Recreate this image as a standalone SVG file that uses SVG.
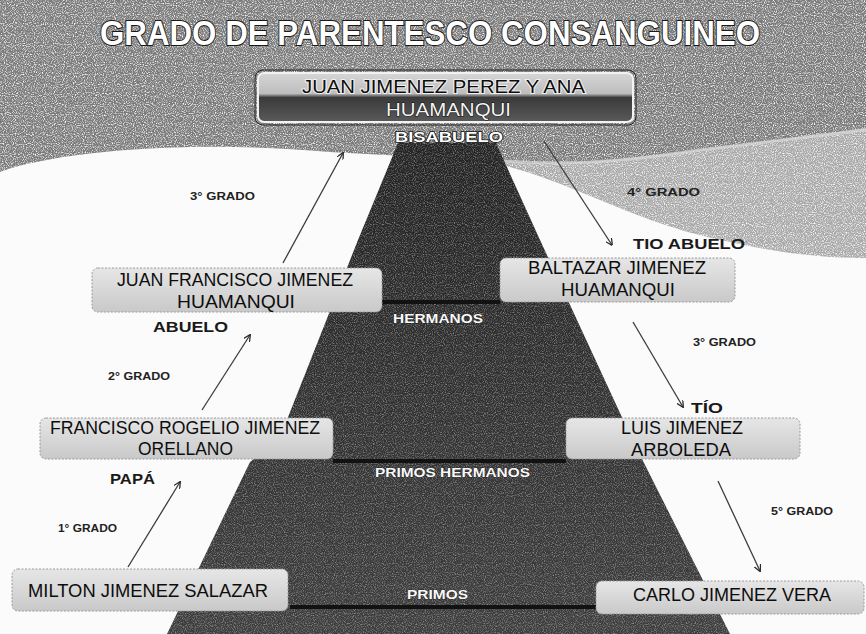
<svg xmlns="http://www.w3.org/2000/svg" width="866" height="634" viewBox="0 0 866 634">
<style>
.bx{fill:url(#boxg);stroke:#9a9a9a;stroke-width:1;stroke-dasharray:2 1.5}
.nt{font-family:"Liberation Sans",Arial,sans-serif;font-size:18px;fill:#0d0d0d}
.rl{font-family:"Liberation Sans",Arial,sans-serif;font-size:14px;font-weight:bold;fill:#1a1a1a}
.gr{font-family:"Liberation Sans",Arial,sans-serif;font-size:10px;font-weight:bold;fill:#222}
.pl{font-family:"Liberation Sans",Arial,sans-serif;font-size:13px;font-weight:bold;fill:#fafafa;stroke:#111;stroke-width:0.6;paint-order:stroke}
.cn{fill:none;stroke:#3c3c3c;stroke-width:1.3;marker-end:url(#ah)}
.sep{stroke:#121212;stroke-width:4}
</style>
<defs>
<marker id="ah" viewBox="0 0 10 10" refX="9" refY="5" markerWidth="7" markerHeight="7" orient="auto" markerUnits="userSpaceOnUse">
<path d="M0,0 L10,5 L0,10" fill="none" stroke="#2a2a2a" stroke-width="1.8"/>
</marker>
<linearGradient id="boxg" x1="0" y1="0" x2="0" y2="1">
<stop offset="0" stop-color="#e6e6e6"/><stop offset="1" stop-color="#c9c9c9"/>
</linearGradient>
<linearGradient id="topg" x1="0" y1="0" x2="0" y2="1">
<stop offset="0" stop-color="#d6d6d6"/><stop offset="0.42" stop-color="#bdbdbd"/>
<stop offset="0.5" stop-color="#3a3a3a"/><stop offset="1" stop-color="#5a5a5a"/>
</linearGradient>
<linearGradient id="pyrg" x1="0" y1="0" x2="0" y2="1">
<stop offset="0" stop-color="#232323"/><stop offset="1" stop-color="#3e3e3e"/>
</linearGradient>
<filter id="grain" x="0" y="0" width="100%" height="100%">
<feTurbulence type="fractalNoise" baseFrequency="0.9" numOctaves="1" seed="7" result="n"/>
<feColorMatrix in="n" type="matrix" values="0 0 0 0 1  0 0 0 0 1  0 0 0 0 1  3 0 0 0 -1.35" result="w"/>
<feComposite in="w" in2="SourceGraphic" operator="in"/>
</filter>
</defs>
<rect width="866" height="634" fill="#fbfbfb"/>
<g id="header">
<path d="M480,160 C560,175 620,215 700,235 C780,255 830,258 866,258 L866,128 C830,133 780,140 700,150 C620,160 560,168 480,160Z" fill="#a9a9a9"/>
<path d="M0,0 H866 V128 C830,133 780,140 700,150 C620,160 560,168 480,160 L330,152 C200,140 60,150 0,172Z" fill="#7a7a7a"/>
<path d="M0,0 H866 V258 C830,258 780,255 700,235 C620,215 560,175 480,160 L330,152 C200,140 60,150 0,172Z" fill="#fff" filter="url(#grain)"/>
<path d="M470,158 C560,168 620,162 700,150 C780,140 830,134 866,130" fill="none" stroke="#d8d8d8" stroke-width="3" opacity="0.7"/>
</g>
<g id="title">
<text x="100" y="45" textLength="660" lengthAdjust="spacingAndGlyphs" font-family="Liberation Sans, Arial, sans-serif" font-size="35" font-weight="bold" fill="#ffffff" stroke="#1a1a1a" stroke-width="2" paint-order="stroke">GRADO DE PARENTESCO CONSANGUINEO</text>
</g>
<g id="pyramid">
<polygon points="398,143 496,143 540,240 620,413 643,461 730,634 167,634 250,462 279,440 358,240" fill="url(#pyrg)"/>
<polygon points="398,143 496,143 540,240 620,413 643,461 730,634 167,634 250,462 279,440 358,240" fill="#fff" filter="url(#grain)" opacity="0.4"/>
<line class="sep" x1="382" y1="302" x2="500" y2="302"/>
<line class="sep" x1="333" y1="461" x2="566" y2="461"/>
<line class="sep" x1="290" y1="607" x2="596" y2="607"/>
<text class="pl" x="393" y="323" textLength="90" lengthAdjust="spacingAndGlyphs">HERMANOS</text>
<text class="pl" x="375" y="477" textLength="155" lengthAdjust="spacingAndGlyphs">PRIMOS HERMANOS</text>
<text class="pl" x="407" y="599" textLength="61" lengthAdjust="spacingAndGlyphs">PRIMOS</text>
</g>
<g id="connectors">
<line class="cn" x1="283" y1="263" x2="343" y2="153"/>
<line class="cn" x1="544" y1="141" x2="612" y2="245"/>
<line class="cn" x1="202" y1="410" x2="250" y2="335"/>
<line class="cn" x1="633" y1="322" x2="683" y2="407"/>
<line class="cn" x1="128" y1="567" x2="180" y2="482"/>
<line class="cn" x1="718" y1="481" x2="760" y2="571"/>
</g>
<g id="n-bisabuelos">
<rect x="258" y="73" width="375" height="49" rx="6" fill="url(#topg)" stroke="#f2f2f2" stroke-width="2"/>
<rect x="255" y="70" width="381" height="55" rx="8" fill="none" stroke="#222" stroke-width="1"/>
<text class="nt" x="302" y="93" textLength="283" lengthAdjust="spacingAndGlyphs" stroke="#f0f0f0" stroke-width="2" paint-order="stroke">JUAN JIMENEZ PEREZ  Y  ANA</text>
<text class="nt" x="386" y="116" textLength="125" lengthAdjust="spacingAndGlyphs" style="fill:#f4f4f4;stroke:#111;stroke-width:1;paint-order:stroke">HUAMANQUI</text>
<text x="395" y="142" textLength="108" lengthAdjust="spacingAndGlyphs" font-family="Liberation Sans, Arial, sans-serif" font-size="14" font-weight="bold" fill="#fff" stroke="#111" stroke-width="1.5" paint-order="stroke">BISABUELO</text>
</g>
<g id="n-abuelo">
<rect class="bx" x="92" y="268" width="290" height="44" rx="6"/>
<text class="nt" x="117" y="286" textLength="236" lengthAdjust="spacingAndGlyphs">JUAN FRANCISCO JIMENEZ</text>
<text class="nt" x="177" y="308" textLength="118" lengthAdjust="spacingAndGlyphs">HUAMANQUI</text>
<text class="rl" x="153" y="332" textLength="75" lengthAdjust="spacingAndGlyphs">ABUELO</text>
</g>
<g id="n-tioabuelo">
<rect class="bx" x="500" y="258" width="235" height="44" rx="6"/>
<text class="nt" x="528" y="274" textLength="178" lengthAdjust="spacingAndGlyphs">BALTAZAR JIMENEZ</text>
<text class="nt" x="561" y="296" textLength="114" lengthAdjust="spacingAndGlyphs">HUAMANQUI</text>
<text class="rl" x="633" y="249" textLength="112" lengthAdjust="spacingAndGlyphs">TIO ABUELO</text>
</g>
<g id="n-papa">
<rect class="bx" x="40" y="418" width="293" height="41" rx="6"/>
<text class="nt" x="50" y="434" textLength="270" lengthAdjust="spacingAndGlyphs">FRANCISCO ROGELIO JIMENEZ</text>
<text class="nt" x="138" y="455" textLength="95" lengthAdjust="spacingAndGlyphs">ORELLANO</text>
<text class="rl" x="110" y="484" textLength="45" lengthAdjust="spacingAndGlyphs">PAPÁ</text>
</g>
<g id="n-tio">
<rect class="bx" x="566" y="418" width="234" height="41" rx="6"/>
<text class="nt" x="621" y="434" textLength="122" lengthAdjust="spacingAndGlyphs">LUIS JIMENEZ</text>
<text class="nt" x="631" y="456" textLength="100" lengthAdjust="spacingAndGlyphs">ARBOLEDA</text>
<text class="rl" x="691" y="413" textLength="32" lengthAdjust="spacingAndGlyphs">TÍO</text>
</g>
<g id="n-milton">
<rect class="bx" x="12" y="569" width="276" height="42" rx="6"/>
<text class="nt" x="28" y="597" textLength="240" lengthAdjust="spacingAndGlyphs">MILTON JIMENEZ SALAZAR</text>
</g>
<g id="n-carlo">
<rect class="bx" x="596" y="581" width="268" height="33" rx="6"/>
<text class="nt" x="633" y="601" textLength="198" lengthAdjust="spacingAndGlyphs">CARLO JIMENEZ VERA</text>
</g>
<g id="grados">
<text class="gr" x="190" y="200" textLength="65" lengthAdjust="spacingAndGlyphs">3° GRADO</text>
<text class="gr" x="627" y="196" textLength="73" lengthAdjust="spacingAndGlyphs">4° GRADO</text>
<text class="gr" x="108" y="380" textLength="62" lengthAdjust="spacingAndGlyphs">2° GRADO</text>
<text class="gr" x="693" y="346" textLength="63" lengthAdjust="spacingAndGlyphs">3° GRADO</text>
<text class="gr" x="58" y="532" textLength="59" lengthAdjust="spacingAndGlyphs">1° GRADO</text>
<text class="gr" x="771" y="515" textLength="62" lengthAdjust="spacingAndGlyphs">5° GRADO</text>
</g>
</svg>
